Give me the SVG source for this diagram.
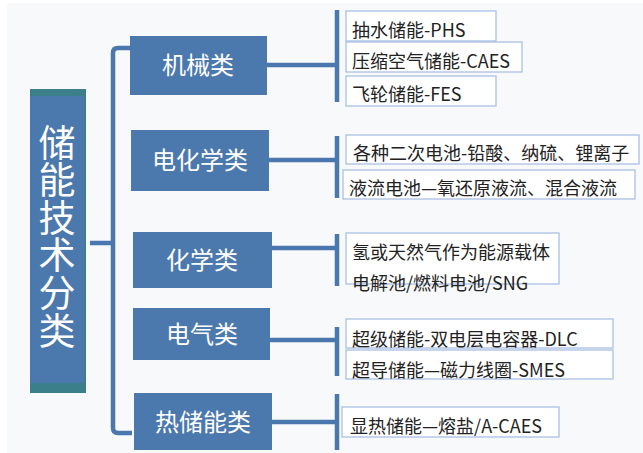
<svg xmlns="http://www.w3.org/2000/svg" width="643" height="453" viewBox="0 0 643 453">
<style>
.cat{fill:#4c79ad;}
.ct{fill:#ffffff;font-family:"Noto Sans CJK SC","Noto Sans",sans-serif;font-size:24px;text-anchor:middle;}
.lf{fill:#ffffff;stroke:#a9c1e2;stroke-width:1.3;}
.lt{fill:#222222;font-family:"Noto Sans CJK SC","Noto Sans",sans-serif;font-size:18px;}
.ln{fill:none;stroke:#4a77ad;stroke-width:4.5;}
.rt{fill:#ffffff;font-family:"Noto Sans CJK SC","Noto Sans",sans-serif;font-size:37px;writing-mode:vertical-rl;letter-spacing:0.6px;}
</style>
<rect x="0" y="0" width="643" height="453" fill="#ffffff"/>
<rect x="7" y="3" width="636" height="450" fill="#f8f9fa"/>
<g id="connectors">
<path class="ln" d="M130,48 L118,48 Q113,48 113,53 L113,428 Q113,433 118,433 L132,433"/>
<path class="ln" d="M90,243 L113,243"/>
<path class="ln" d="M267,65 L337,65 M337,10 L337,102"/>
<path class="ln" d="M269,160 L337,160 M337,136 L337,198"/>
<path class="ln" d="M272,248 L337,248 M337,234 L337,286"/>
<path class="ln" d="M270,340 L337,340 M337,327 L337,376"/>
<path class="ln" d="M272,422 L337,422 M337,394 L337,450"/>
</g>
<g id="root">
<rect x="30" y="89" width="56" height="304" fill="#3b7f8a"/>
<rect x="30" y="96" width="54" height="287" fill="#4c79ad"/>
<text class="rt" x="57" y="124">储能技术分类</text>
</g>
<g id="cat1"><rect class="cat" x="130" y="36" width="137" height="59"/><text class="ct" x="198" y="74">机械类</text></g>
<g id="cat2"><rect class="cat" x="131" y="130" width="138" height="61"/><text class="ct" x="200" y="169">电化学类</text></g>
<g id="cat3"><rect class="cat" x="133" y="232" width="139" height="56"/><text class="ct" x="202" y="269">化学类</text></g>
<g id="cat4"><rect class="cat" x="133" y="308" width="137" height="52"/><text class="ct" x="202" y="343">电气类</text></g>
<g id="cat5"><rect class="cat" x="134" y="393" width="138" height="57"/><text class="ct" x="203" y="431">热储能类</text></g>
<g id="leaf1"><rect class="lf" x="346" y="11" width="150" height="30"/><text class="lt" x="352" y="37">抽水储能-PHS</text></g>
<g id="leaf2"><rect class="lf" x="346" y="42" width="176" height="30"/><text class="lt" x="352" y="68">压缩空气储能-CAES</text></g>
<g id="leaf3"><rect class="lf" x="346" y="76" width="150" height="30"/><text class="lt" x="352" y="101">飞轮储能-FES</text></g>
<g id="leaf4"><rect class="lf" x="346" y="135" width="293" height="29"/><text class="lt" x="353" y="160">各种二次电池-铅酸、纳硫、锂离子</text></g>
<g id="leaf5"><rect class="lf" x="343" y="170" width="292" height="29"/><text class="lt" x="349" y="195">液流电池—氧还原液流、混合液流</text></g>
<g id="leaf6"><rect class="lf" x="346" y="233" width="213" height="51"/><text class="lt" x="352" y="259">氢或天然气作为能源载体</text><text class="lt" x="352" y="290">电解池/燃料电池/SNG</text></g>
<g id="leaf7"><rect class="lf" x="346" y="319" width="267" height="29"/><text class="lt" x="352" y="346">超级储能-双电层电容器-DLC</text></g>
<g id="leaf8"><rect class="lf" x="346" y="350" width="267" height="29"/><text class="lt" x="352" y="377">超导储能—磁力线圈-SMES</text></g>
<g id="leaf9"><rect class="lf" x="342" y="407" width="217" height="30"/><text class="lt" x="350" y="433">显热储能—熔盐/A-CAES</text></g>
</svg>
